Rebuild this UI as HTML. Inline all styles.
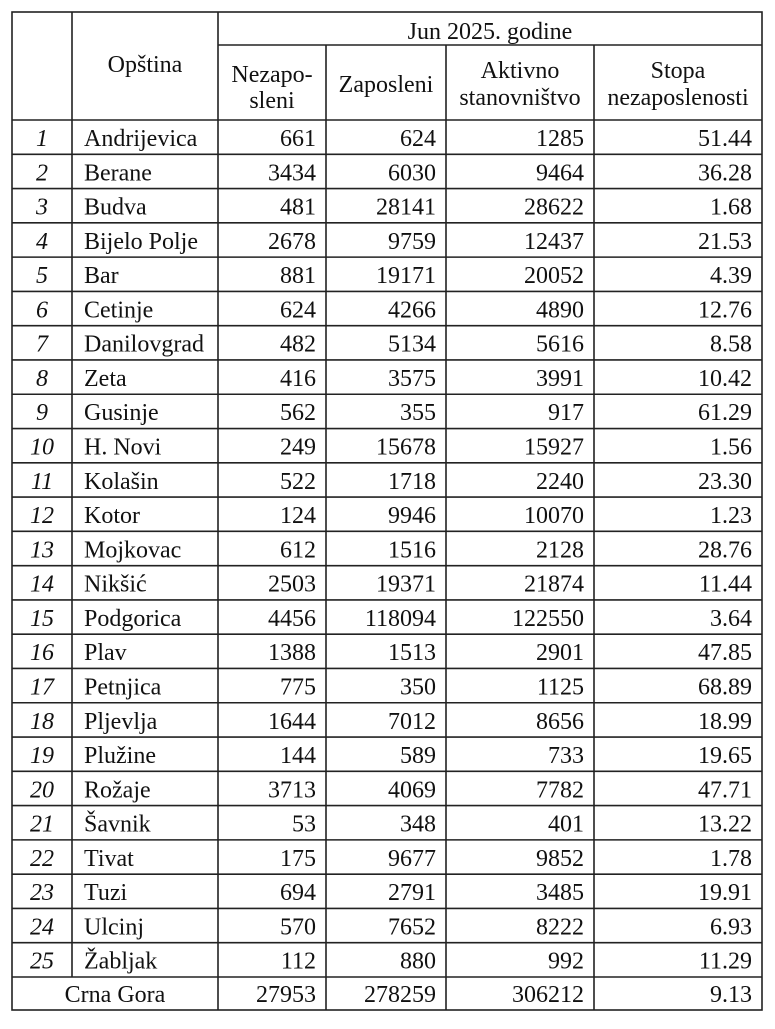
<!DOCTYPE html>
<html><head><meta charset="utf-8"><style>
body{margin:0;background:#fff;width:775px;height:1024px;overflow:hidden}
svg text{font-family:"Liberation Serif",serif;font-size:24px;fill:#111}
</style></head><body>
<svg width="775" height="1024" xmlns="http://www.w3.org/2000/svg">
<g stroke="#222" stroke-width="1.6" fill="none">
<rect x="12" y="12" width="750" height="998"/>
<line x1="218" y1="45" x2="762" y2="45"/>
<line x1="72" y1="12" x2="72" y2="977"/>
<line x1="218" y1="12" x2="218" y2="1010"/>
<line x1="326" y1="45" x2="326" y2="1010"/>
<line x1="446" y1="45" x2="446" y2="1010"/>
<line x1="594" y1="45" x2="594" y2="1010"/>
</g>
<g id="rows"></g>
<text x="490" y="39" text-anchor="middle">Jun 2025. godine</text>
<text x="145" y="72" text-anchor="middle">Opština</text>
<text x="272" y="82" text-anchor="middle">Nezapo-</text>
<text x="272" y="108" text-anchor="middle">sleni</text>
<text x="386" y="92" text-anchor="middle">Zaposleni</text>
<text x="520" y="78" text-anchor="middle">Aktivno</text>
<text x="520" y="105" text-anchor="middle">stanovništvo</text>
<text x="678" y="78" text-anchor="middle">Stopa</text>
<text x="678" y="105" text-anchor="middle">nezaposlenosti</text>
<text x="115" y="1002" text-anchor="middle">Crna Gora</text>
<text x="316" y="1002" text-anchor="end">27953</text>
<text x="436" y="1002" text-anchor="end">278259</text>
<text x="584" y="1002" text-anchor="end">306212</text>
<text x="752" y="1002" text-anchor="end">9.13</text>
</svg>
<script>
const d=[["Andrijevica",661,624,1285,"51.44"],["Berane",3434,6030,9464,"36.28"],["Budva",481,28141,28622,"1.68"],["Bijelo Polje",2678,9759,12437,"21.53"],["Bar",881,19171,20052,"4.39"],["Cetinje",624,4266,4890,"12.76"],["Danilovgrad",482,5134,5616,"8.58"],["Zeta",416,3575,3991,"10.42"],["Gusinje",562,355,917,"61.29"],["H. Novi",249,15678,15927,"1.56"],["Kolašin",522,1718,2240,"23.30"],["Kotor",124,9946,10070,"1.23"],["Mojkovac",612,1516,2128,"28.76"],["Nikšić",2503,19371,21874,"11.44"],["Podgorica",4456,118094,122550,"3.64"],["Plav",1388,1513,2901,"47.85"],["Petnjica",775,350,1125,"68.89"],["Pljevlja",1644,7012,8656,"18.99"],["Plužine",144,589,733,"19.65"],["Rožaje",3713,4069,7782,"47.71"],["Šavnik",53,348,401,"13.22"],["Tivat",175,9677,9852,"1.78"],["Tuzi",694,2791,3485,"19.91"],["Ulcinj",570,7652,8222,"6.93"],["Žabljak",112,880,992,"11.29"]];
const NS="http://www.w3.org/2000/svg";const g=document.getElementById("rows");
function t(x,y,s,a,it){const e=document.createElementNS(NS,"text");e.setAttribute("x",x);e.setAttribute("y",y);e.setAttribute("text-anchor",a);if(it)e.setAttribute("font-style","italic");e.textContent=s;g.appendChild(e);}
const h=(977-120)/25;
for(let i=0;i<=25;i++){const y=120+i*h;const l=document.createElementNS(NS,"line");l.setAttribute("x1",12);l.setAttribute("x2",762);l.setAttribute("y1",y);l.setAttribute("y2",y);l.setAttribute("stroke","#222");l.setAttribute("stroke-width","1.6");g.appendChild(l);}
d.forEach((r,i)=>{const y=120+i*h+26;t(42,y,String(i+1),"middle",1);t(84,y,r[0],"start");t(316,y,r[1],"end");t(436,y,r[2],"end");t(584,y,r[3],"end");t(752,y,r[4],"end");});
</script>
</body></html>
